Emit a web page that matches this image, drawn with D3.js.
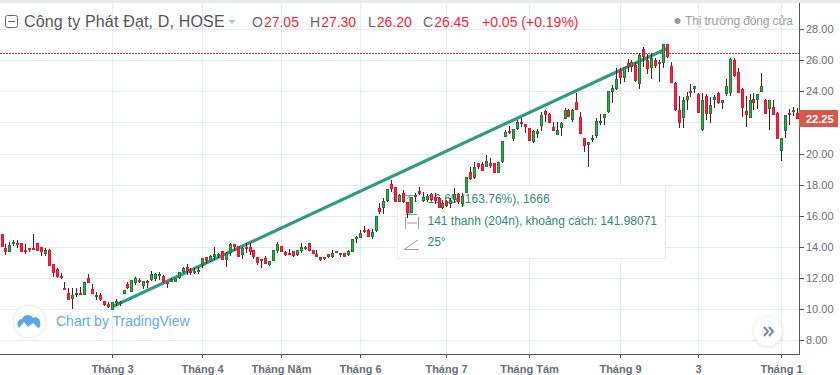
<!DOCTYPE html>
<html>
<head>
<meta charset="utf-8">
<script src="https://cdn.jsdelivr.net/npm/d3@7"></script>
<style>
  html, body { margin: 0; padding: 0; background: #fff; overflow: hidden; }
  svg { display: block; font-family: "Liberation Sans", Arial, sans-serif; }
</style>
</head>
<body>
<div id="chart"></div>
<script>
// Gia mo, cao, thap, dong doc tu hinh, 203 nen
const opens = [
  14.86,13.96,13.70,14.22,14.28,14.28,13.83,13.96,13.96,14.28,
  14.02,13.57,13.83,12.93,12.61,12.16,11.38,11.06,10.67,10.93,
  11.06,10.93,12.03,11.32,10.87,10.93,10.55,10.35,9.97,10.42,
  10.42,11.00,11.64,11.13,11.70,11.90,11.51,11.83,11.90,11.96,
  12.22,12.16,11.77,11.77,11.77,12.03,12.41,12.73,12.48,12.41,
  12.48,12.86,13.38,13.12,13.38,13.51,13.77,13.19,13.64,14.22,
  14.09,13.51,14.02,14.02,13.83,13.38,13.19,13.31,12.86,13.12,
  13.77,14.09,13.70,13.64,13.77,13.51,13.77,13.96,14.28,13.83,
  13.57,13.38,13.31,13.57,13.38,13.77,13.57,13.64,13.51,13.70,
  14.54,14.60,15.12,15.12,14.67,15.05,16.53,16.53,16.99,18.08,
  17.89,16.92,17.50,16.92,16.21,17.24,17.63,16.99,17.05,17.44,
  17.24,17.18,16.53,16.99,16.79,17.05,17.44,16.79,17.50,18.85,
  18.47,19.43,19.37,19.17,19.43,19.43,18.79,19.50,21.11,21.49,
  20.98,21.62,22.07,21.94,21.69,20.78,21.30,21.82,22.78,22.59,
  21.75,21.24,21.69,22.27,22.85,22.20,23.36,22.40,21.04,20.59,
  20.91,21.17,22.01,22.33,22.72,24.00,24.20,25.42,24.91,25.87,
  25.62,25.74,24.52,26.77,26.07,25.55,26.07,25.81,25.87,27.10,
  25.68,24.58,22.85,22.33,23.49,24.07,24.20,23.88,21.56,23.75,
  22.59,23.49,23.94,23.30,23.88,23.94,26.07,25.29,24.20,22.78,
  22.33,23.55,23.49,24.00,23.49,22.91,23.04,22.65,20.21,21.49,
  22.65,22.72,22.65
];
const highs = [
  14.86,14.22,14.35,14.47,14.47,14.28,14.22,13.96,14.86,14.28,
  14.02,13.96,13.89,12.93,12.67,12.35,11.77,11.38,11.38,11.38,
  11.45,11.77,12.28,11.64,11.13,11.06,10.55,10.48,10.48,10.67,
  10.55,11.25,11.77,11.90,12.09,12.03,11.83,11.90,12.48,12.35,
  12.41,12.22,11.77,12.03,12.03,12.41,12.73,12.93,12.67,12.67,
  12.73,13.31,13.38,13.51,14.02,13.64,13.77,13.70,14.28,14.22,
  14.09,14.02,14.28,14.28,13.83,13.38,13.25,13.44,13.12,13.83,
  14.35,14.09,13.77,13.89,13.77,13.83,14.28,14.09,14.28,13.83,
  13.83,13.38,13.38,13.57,13.83,13.77,13.64,13.64,13.83,14.54,
  14.73,15.12,15.37,15.18,15.18,16.02,16.86,17.18,17.76,18.34,
  17.89,17.44,17.69,16.92,17.24,17.50,17.89,17.57,17.44,17.50,
  17.50,17.24,17.05,17.05,17.18,17.82,17.50,17.50,18.53,19.17,
  19.50,19.43,19.50,19.95,19.75,19.43,19.50,20.85,21.56,21.82,
  21.62,22.20,22.33,21.94,21.69,21.56,21.62,22.72,22.85,22.65,
  22.07,22.07,22.07,22.97,22.91,22.91,23.94,22.72,21.04,20.78,
  21.24,22.33,22.59,22.59,24.07,24.46,25.55,25.55,25.62,26.13,
  26.07,25.94,26.52,26.90,26.45,26.52,26.20,26.07,27.10,27.10,
  25.94,24.65,23.75,23.68,24.00,24.52,24.39,23.94,23.94,23.88,
  23.68,23.81,24.00,23.49,24.84,26.20,26.20,25.55,24.26,23.75,
  23.88,23.94,23.88,25.23,23.55,23.49,23.49,22.72,21.04,22.52,
  22.91,23.04,22.97
];
const lows = [
  14.02,13.51,13.70,14.09,13.96,13.70,13.57,13.70,13.89,13.77,
  13.44,13.44,12.80,12.09,12.03,11.96,11.32,10.61,10.03,10.80,
  10.93,10.93,11.70,11.00,10.61,10.55,10.22,10.10,9.97,10.22,
  10.22,11.00,11.32,11.13,11.58,11.70,11.32,11.38,11.83,11.83,
  11.90,11.70,11.38,11.77,11.77,11.96,12.35,12.22,12.22,12.28,
  12.28,12.67,12.93,13.06,13.19,13.31,13.19,12.73,13.44,13.77,
  13.38,13.25,13.64,13.51,13.25,12.86,12.67,12.93,12.80,13.12,
  13.64,13.70,13.44,13.51,13.38,13.44,13.64,13.83,13.77,13.57,
  13.38,13.12,13.19,13.31,13.31,13.64,13.38,13.38,13.44,13.70,
  14.28,14.60,14.92,14.67,14.54,14.99,16.15,16.15,16.92,17.57,
  16.92,16.92,16.86,15.89,16.21,16.92,17.37,16.92,16.92,16.99,
  16.79,16.53,16.47,16.60,16.53,16.86,16.79,16.60,17.50,18.34,
  18.40,19.05,18.92,19.17,19.11,18.79,18.79,19.43,21.11,21.30,
  20.85,21.56,21.75,21.36,20.85,20.72,21.04,21.49,22.07,22.01,
  21.49,21.24,21.17,22.27,22.40,22.07,22.85,21.30,20.14,19.17,
  20.78,21.04,21.88,21.88,22.65,23.30,24.13,24.52,24.65,25.29,
  25.29,24.65,24.20,25.62,25.16,24.84,25.55,24.65,25.55,26.20,
  24.58,22.78,21.69,21.69,22.85,23.68,23.94,22.65,21.49,22.20,
  22.01,22.97,23.23,22.91,23.75,23.75,24.97,23.94,22.40,21.75,
  22.33,22.85,22.91,24.00,22.59,21.56,22.52,20.98,19.56,21.04,
  21.88,22.46,22.27
];
const closes = [
  14.02,13.70,14.15,14.35,14.15,13.70,13.70,13.83,13.89,13.77,
  13.70,13.83,12.80,12.35,12.09,12.03,11.32,10.61,10.93,11.06,
  10.93,11.77,11.70,11.00,10.93,10.61,10.29,10.16,10.48,10.55,
  10.48,11.25,11.38,11.90,12.03,11.83,11.83,11.77,12.28,12.28,
  12.28,11.77,11.64,11.96,12.03,12.41,12.67,12.48,12.41,12.48,
  12.54,13.31,13.12,13.44,13.57,13.57,13.19,13.64,14.22,14.02,
  13.38,13.96,13.89,13.70,13.38,12.99,13.25,12.93,13.12,13.83,
  14.22,13.70,13.51,13.57,13.44,13.83,14.02,14.02,13.77,13.57,
  13.38,13.19,13.38,13.38,13.64,13.64,13.64,13.38,13.77,14.54,
  14.67,14.92,14.99,14.67,14.99,16.02,16.28,16.99,17.76,17.76,
  16.92,17.37,16.92,16.21,17.24,17.37,17.44,17.24,17.31,17.05,
  16.99,16.53,16.86,16.66,17.05,17.44,16.92,17.31,18.53,18.40,
  19.17,19.17,18.92,19.56,19.24,18.79,19.50,20.85,21.43,21.36,
  21.62,22.07,21.94,21.75,20.85,21.49,21.49,22.52,22.52,22.01,
  21.49,21.56,22.01,22.85,22.40,22.85,22.85,21.30,20.53,20.78,
  21.04,22.14,22.14,22.59,24.07,24.26,24.84,24.91,25.62,25.62,
  25.94,24.71,26.39,26.26,25.49,26.20,25.68,25.94,27.10,26.26,
  24.58,22.85,22.01,23.49,23.75,23.94,24.39,22.65,23.49,22.59,
  23.17,23.68,23.30,23.49,24.39,26.13,25.04,23.94,22.97,22.52,
  23.49,23.30,23.88,24.39,22.59,23.49,22.52,20.98,21.04,22.52,
  22.52,22.85,22.27
];

// Truc
const priceTicks = [8, 10, 12, 14, 16, 18, 20, 22, 24, 26, 28];
const monthBars = [29, 52, 72, 92, 114, 135, 158, 178, 199];
const monthLabels = ["Tháng 3", "Tháng 4", "Tháng Năm", "Tháng 6", "Tháng 7", "Tháng Tám", "Tháng 9", "3", "Tháng 1"];

// Duong xu huong (so thu tu nen, gia) va cac gia tri khac
const trendBars = [29, 170];
const trendPrices = [10.16, 26.81];
const prevClose = 26.45;
const lastPrice = 22.25;
const ohlcLegend = [["O", "27.05"], ["H", "27.30"], ["L", "26.20"], ["C", "26.45"]];
const ohlcX = [252, 310, 368, 423];

const W = 840, H = 375;
const plotRight = 799, plotBottom = 354, plotTop = 3;

const svg = d3.select("#chart").append("svg").attr("width", W).attr("height", H);

// Scale
const x = d3.scaleLinear().domain([1, 203]).range([1.5, 796.8]);
const y = d3.scaleLinear().domain([8, 28]).range([340.5, 30]);
// ban lam tron cho luoi va truc
const xTick = x.copy().interpolate(d3.interpolateRound);
const yTick = d3.scaleLinear().domain([8, 28]).range([340.3, 29.1]).interpolate(d3.interpolateRound);

// Dai xam tren cung
svg.append("rect").attr("width", W).attr("height", plotTop).attr("fill", "#e9ecef");

// Luoi
const grid = svg.append("g").attr("stroke", "#e4ebf3").attr("stroke-width", 1);
grid.selectAll(".gx").data(monthBars).join("line")
  .attr("x1", d => xTick(d) + 0.5).attr("x2", d => xTick(d) + 0.5)
  .attr("y1", plotTop).attr("y2", plotBottom);
grid.selectAll(".gy").data(priceTicks).join("line")
  .attr("x1", 0).attr("x2", plotRight)
  .attr("y1", d => yTick(d) + 0.5).attr("y2", d => yTick(d) + 0.5);

// Duong gia dong cua truoc
svg.append("line")
  .attr("x1", 0).attr("x2", plotRight)
  .attr("y1", Math.floor(y(prevClose)) - 0.5).attr("y2", Math.floor(y(prevClose)) - 0.5)
  .attr("stroke", "#b5423a").attr("stroke-width", 1).attr("stroke-dasharray", "2,1");

// Khung thong tin cua cong cu ve
const info = svg.append("g");
info.append("rect").attr("x", 397.5).attr("y", 185.5).attr("width", 268).attr("height", 73)
  .attr("fill", "#fff").attr("stroke", "#e8ebf0");
const infoRows = ["16.65 (163.76%), 1666", "141 thanh (204n), khoảng cách: 141.98071", "25°"];
info.selectAll("text").data(infoRows).join("text")
  .attr("x", 427.5).attr("y", (d, i) => [203, 225, 246][i])
  .attr("font-size", 12).attr("fill", "#2f8b75").text(d => d);
// icon
const ic = info.append("g").attr("fill", "none").attr("stroke", "#9b9b9b");
ic.append("path").attr("d", "M405 195.5H417M405 214.5H417M409.5 196V214M407 199L409.5 196L412 199M407 211L409.5 214L412 211");
ic.append("path").attr("d", "M405.5 217V229M418.5 217V229M407 223H417");
ic.append("path").attr("d", "M404 249.5H419M404 249.5L418 240");

// Duong xu huong
svg.append("line")
  .attr("x1", x(trendBars[0])).attr("y1", y(trendPrices[0]))
  .attr("x2", x(trendBars[1])).attr("y2", y(trendPrices[1]))
  .attr("stroke", "#2a9d83").attr("stroke-width", 3.2);

// Nen
const bars = d3.range(opens.length).map(i => ({
  i: i + 1, o: opens[i], h: highs[i], l: lows[i], c: closes[i]
}));
const candles = svg.append("g").selectAll("g").data(bars).join("g");
candles.append("line")
  .attr("x1", d => Math.round(x(d.i)) + 0.5).attr("x2", d => Math.round(x(d.i)) + 0.5)
  .attr("y1", d => Math.round(y(d.h))).attr("y2", d => Math.round(y(d.l)))
  .attr("stroke", "#561c1c");
candles.append("rect")
  .attr("x", d => Math.round(x(d.i)) - 0.5)
  .attr("width", 2)
  .attr("y", d => Math.round(y(Math.max(d.o, d.c))) + 0.5)
  .attr("height", d => Math.max(1, Math.round(y(Math.min(d.o, d.c))) - Math.round(y(Math.max(d.o, d.c))) - 1))
  .attr("fill", d => d.c >= d.o ? "#3fa65a" : "#ff2340")
  .attr("stroke", d => d.c >= d.o ? "#17802f" : "#ee102e");

// Truc gia ben phai (nhan 22.00 nam duoi nhan gia cuoi nen khong ve)
const yAxis = svg.append("g").attr("transform", `translate(${plotRight},0)`)
  .call(d3.axisRight(yTick).tickValues(priceTicks).tickSize(5).tickPadding(2)
    .tickFormat(d => d === 22 ? "" : d3.format(".2f")(d)));
yAxis.select(".domain").remove();
yAxis.selectAll("line").attr("stroke", "#555");
yAxis.selectAll("text").attr("fill", "#6b6e78").attr("font-size", 11).attr("font-family", "Liberation Sans");

// Truc thoi gian
const xAxis = svg.append("g").attr("transform", `translate(0,${plotBottom})`)
  .call(d3.axisBottom(xTick).tickValues(monthBars).tickSize(4).tickPadding(7)
    .tickFormat((d, i) => monthLabels[i]));
xAxis.select(".domain").remove();
xAxis.selectAll("line").attr("stroke", "#555");
xAxis.selectAll("text").attr("fill", "#6b6e78").attr("font-size", 11).attr("font-weight", "bold").attr("font-family", "Liberation Sans");

svg.append("line").attr("x1", 0).attr("x2", plotRight + 1).attr("y1", plotBottom + 0.5).attr("y2", plotBottom + 0.5).attr("stroke", "#555");
svg.append("line").attr("x1", plotRight + 0.5).attr("x2", plotRight + 0.5).attr("y1", plotTop).attr("y2", plotBottom).attr("stroke", "#555");

// Nhan gia cuoi
svg.append("rect").attr("x", plotRight).attr("y", 110).attr("width", 39).attr("height", 17).attr("fill", "#d6584d");
svg.append("text").attr("x", 806).attr("y", 122.5).attr("font-size", 11).attr("font-weight", "bold").attr("fill", "#fff").text(lastPrice.toFixed(2));

// Tieu de va OHLC
const head = svg.append("g");
head.append("rect").attr("x", 5.5).attr("y", 15.5).attr("width", 12).attr("height", 12).attr("rx", 2)
  .attr("fill", "#fff").attr("stroke", "#666");
head.append("line").attr("x1", 8).attr("x2", 15).attr("y1", 21.5).attr("y2", 21.5).attr("stroke", "#666");
head.append("text").attr("x", 24).attr("y", 27).attr("font-size", 16).attr("letter-spacing", 0.17).attr("fill", "#555").text("Công ty Phát Đạt, D, HOSE");
head.append("path").attr("d", "M228 20H236L232 24Z").attr("fill", "#c4c4c4");
ohlcLegend.forEach((d, i) => {
  const t = head.append("text").attr("x", ohlcX[i]).attr("y", 27).attr("font-size", 14);
  t.append("tspan").attr("fill", "#666").text(d[0]);
  t.append("tspan").attr("fill", "#ff1a3a").attr("dx", 1).text(d[1]);
});
head.append("text").attr("x", 482).attr("y", 27).attr("font-size", 14).attr("fill", "#ff1a3a").text("+0.05 (+0.19%)");
head.append("circle").attr("cx", 677.5).attr("cy", 21).attr("r", 3).attr("fill", "#999");
head.append("text").attr("x", 685).attr("y", 25).attr("font-size", 12).attr("letter-spacing", -0.15).attr("fill", "#a0a0a0").text("Thị trường đóng cửa");

// Logo TradingView
const logo = svg.append("g");
logo.append("circle").attr("cx", 29.5).attr("cy", 321.5).attr("r", 16.5).attr("fill", "#fff").attr("stroke", "#ececec");
logo.append("path").attr("d", "M19 328C16 324 18 319 22 319C24 314 31 314 33 318C36 316 41 319 40 323C41 325 40 328 38 328L33 323L28 327L24 322Z")
  .attr("fill", "#5ba8e8");
logo.append("text").attr("x", 56).attr("y", 326).attr("font-size", 14).attr("fill", "#62aceb").text("Chart by TradingView");

// Nut cuon
svg.append("defs").append("filter").attr("id", "bs").append("feDropShadow")
  .attr("dx", 0).attr("dy", 1).attr("stdDeviation", 2).attr("flood-color", "#000").attr("flood-opacity", 0.15);
svg.append("circle").attr("cx", 768).attr("cy", 331.5).attr("r", 14).attr("fill", "#fff").attr("filter", "url(#bs)");
svg.append("path").attr("d", "M764 327L768 331.5L764 336M769 327L773 331.5L769 336")
  .attr("fill", "none").attr("stroke", "#7a8aa5").attr("stroke-width", 2);
</script>
</body>
</html>
